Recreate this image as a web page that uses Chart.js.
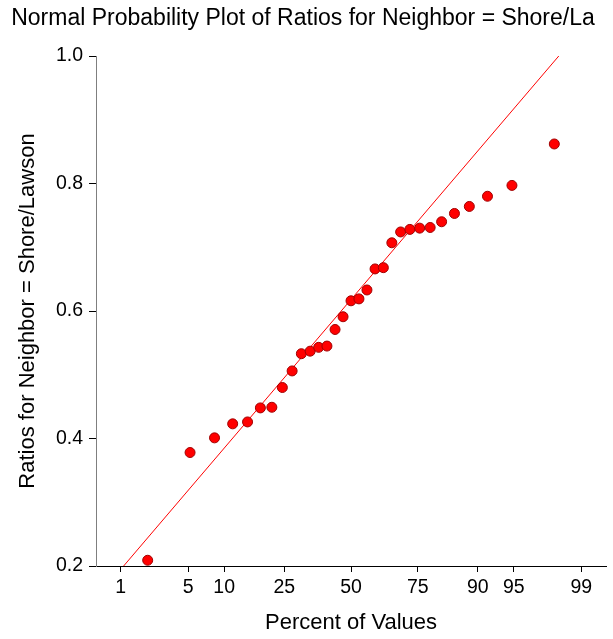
<!DOCTYPE html>
<html>
<head>
<meta charset="utf-8">
<script src="https://cdn.jsdelivr.net/npm/chart.js@4"></script>
<style>
  html, body { margin: 0; padding: 0; background: #fff; }
  canvas { display: block; }
</style>
</head>
<body>
<canvas id="plot" width="613" height="639"></canvas>
<script>
const percentValues = [2.0, 5.2, 8.4, 11.6, 14.8, 18.0, 21.2, 24.4, 27.6, 30.8,
  34.0, 37.2, 40.4, 43.6, 46.8, 50.0, 53.2, 56.4, 59.6, 62.8,
  66.0, 69.2, 72.4, 75.6, 78.8, 82.0, 85.2, 88.4, 91.6, 94.8, 98.0];
const ratioValues = [0.209, 0.378, 0.401, 0.423, 0.426, 0.448, 0.449, 0.480, 0.506, 0.533,
  0.537, 0.543, 0.545, 0.571, 0.591, 0.616, 0.619, 0.633, 0.666, 0.668,
  0.707, 0.724, 0.728, 0.730, 0.731, 0.740, 0.753, 0.764, 0.780, 0.797, 0.862];

const tickPercents = [1, 5, 10, 25, 50, 75, 90, 95, 99];
const percentRange = [0.5, 99.5];
const yTicks = [0.2, 0.4, 0.6, 0.8, 1.0];

// reference line (mean, sd)
const fitMean = 0.618;
const fitSd = 0.182;

// inverse normal cdf (Acklam)
function probit(p) {
    const a = [-3.969683028665376e+01, 2.209460984245205e+02, -2.759285104469687e+02, 1.383577518672690e+02, -3.066479806614716e+01, 2.506628277459239e+00];
    const b = [-5.447609879822406e+01, 1.615858368580409e+02, -1.556989798598866e+02, 6.680131188771972e+01, -1.328068155288572e+01];
    const c = [-7.784894002430293e-03, -3.223964580411365e-01, -2.400758277161838e+00, -2.549732539343734e+00, 4.374664141464968e+00, 2.938163982698783e+00];
    const d = [7.784695709041462e-03, 3.224671290700398e-01, 2.445134137142996e+00, 3.754408661907416e+00];
    const pl = 0.02425;
    let q, r;
    if (p < pl) {
        q = Math.sqrt(-2 * Math.log(p));
        return (((((c[0]*q+c[1])*q+c[2])*q+c[3])*q+c[4])*q+c[5]) / ((((d[0]*q+d[1])*q+d[2])*q+d[3])*q+1);
    }
    if (p > 1 - pl) {
        q = Math.sqrt(-2 * Math.log(1 - p));
        return -(((((c[0]*q+c[1])*q+c[2])*q+c[3])*q+c[4])*q+c[5]) / ((((d[0]*q+d[1])*q+d[2])*q+d[3])*q+1);
    }
    q = p - 0.5;
    r = q * q;
    return (((((a[0]*r+a[1])*r+a[2])*r+a[3])*r+a[4])*r+a[5])*q / (((((b[0]*r+b[1])*r+b[2])*r+b[3])*r+b[4])*r+1);
}

const zMin = probit(percentRange[0] / 100);
const zMax = probit(percentRange[1] / 100);

const points = percentValues.map((p, i) => ({ x: probit(p / 100), y: ratioValues[i] }));
const fitLine = [zMin, zMax].map(z => ({ x: z, y: fitMean + fitSd * z }));

const FONT = "'Liberation Sans', Arial, sans-serif";

new Chart(document.getElementById('plot').getContext('2d'), {
    type: 'scatter',
    data: {
        datasets: [
            {
                type: 'line',
                data: fitLine,
                borderColor: '#ff0000',
                borderWidth: 1,
                pointRadius: 0,
                fill: false,
                order: 2
            },
            {
                data: points,
                backgroundColor: '#ff0000',
                borderColor: '#a00000',
                borderWidth: 1,
                pointRadius: 5,
                order: 1
            }
        ]
    },
    options: {
        responsive: false,
        animation: false,
        layout: { padding: { left: 0, right: 7, top: 0, bottom: 0 } },
        plugins: {
            legend: { display: false },
            tooltip: { enabled: false },
            title: {
                display: true,
                text: 'Normal Probability Plot of Ratios for Neighbor = Shore/La',
                color: '#000',
                font: { family: FONT, size: 23, weight: 'normal' },
                padding: { top: 4.5, bottom: 23.9 }
            }
        },
        scales: {
            x: {
                type: 'linear',
                min: zMin,
                max: zMax,
                afterBuildTicks: s => { s.ticks = tickPercents.map(p => ({ value: probit(p / 100) })); },
                afterFit: s => { s.height = 73; },
                ticks: {
                    color: '#000',
                    font: { family: FONT, size: 19.5 },
                    padding: 4,
                    maxRotation: 0,
                    autoSkip: false,
                    callback: (v, i) => String(tickPercents[i])
                },
                grid: { drawOnChartArea: false, drawTicks: true, tickLength: 6, color: '#000' },
                border: { display: true, color: '#000', width: 1 },
                title: {
                    display: true,
                    text: 'Percent of Values',
                    color: '#000',
                    font: { family: FONT, size: 22 },
                    padding: { top: 0, bottom: 2.8 }
                }
            },
            y: {
                min: 0.2,
                max: 1.0,
                afterBuildTicks: s => { s.ticks = yTicks.map(v => ({ value: v })); },
                afterFit: s => { s.width = 96; },
                ticks: {
                    color: '#000',
                    font: { family: FONT, size: 19.5 },
                    padding: 6,
                    callback: v => v.toFixed(1)
                },
                grid: { drawOnChartArea: false, drawTicks: true, tickLength: 7, color: '#000' },
                border: { display: true, color: '#7f7f7f', width: 1 },
                title: {
                    display: true,
                    text: 'Ratios for Neighbor = Shore/Lawson',
                    color: '#000',
                    font: { family: FONT, size: 22 },
                    padding: { top: 14.8, bottom: 0 }
                }
            }
        }
    }
});
</script>
</body>
</html>
